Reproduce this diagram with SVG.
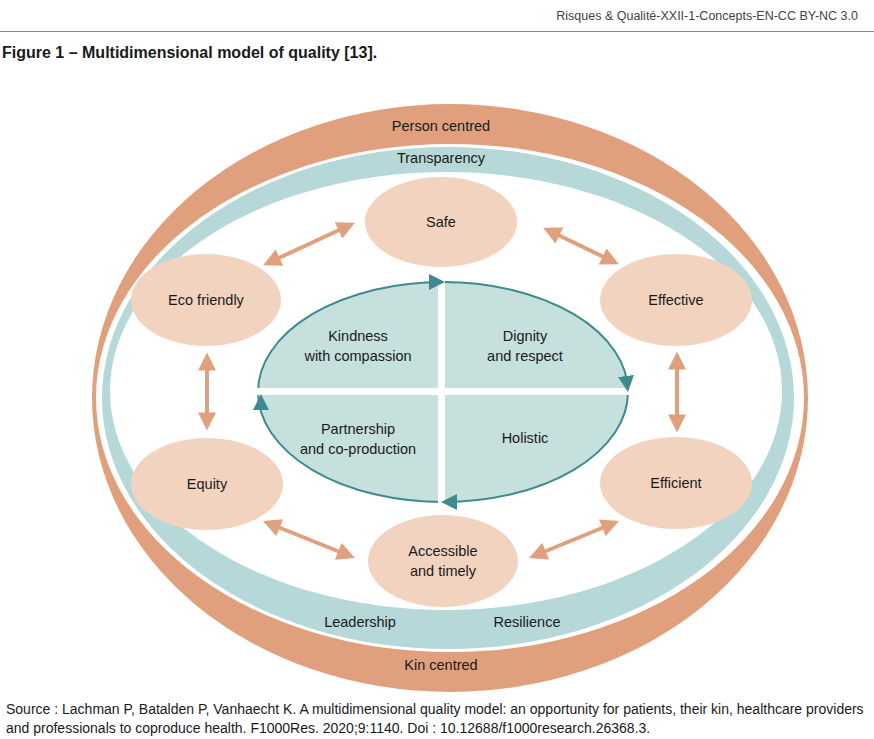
<svg xmlns="http://www.w3.org/2000/svg" width="874" height="739" viewBox="0 0 874 739">
<style>
text{font-family:"Liberation Sans",Arial,sans-serif;fill:#1a1a1a}
.l{font-size:14.5px;text-anchor:middle}
.node{fill:#f2d3c0}
.q{fill:#c5e0dd}
.oa{stroke:#e0a07e;stroke-width:4;fill:none}
</style>
<defs>
<marker id="ae" viewBox="0 0 10 10" refX="7" refY="5" markerWidth="20" markerHeight="18" orient="auto" markerUnits="userSpaceOnUse"><path d="M0,0 L10,5 L0,10 z" fill="#e0a07e"/></marker>
<marker id="as" viewBox="0 0 10 10" refX="3" refY="5" markerWidth="20" markerHeight="18" orient="auto" markerUnits="userSpaceOnUse"><path d="M10,0 L0,5 L10,10 z" fill="#e0a07e"/></marker>
<marker id="at" viewBox="0 0 10 10" refX="5" refY="5" markerWidth="16" markerHeight="16" orient="auto" markerUnits="userSpaceOnUse"><path d="M0,0 L10,5 L0,10 z" fill="#3e8a8e"/></marker>
</defs>
<rect width="874" height="739" fill="#fff"/>
<text x="858" y="20" font-size="12.5" text-anchor="end" style="fill:#444">Risques &amp; Qualité-XXII-1-Concepts-EN-CC BY-NC 3.0</text>
<line x1="0" y1="31.5" x2="874" y2="31.5" stroke="#888" stroke-width="1"/>
<text x="2" y="58" font-size="16" font-weight="bold">Figure 1 – Multidimensional model of quality [13].</text>
<g id="rings">
<path fill="#e0a07e" fill-rule="evenodd" d="M92,398 a358,294 0 1,0 716,0 a358,294 0 1,0 -716,0 Z M96,398 a354,254 0 1,0 708,0 a354,254 0 1,0 -708,0 Z"/>
<path fill="#b6d8d8" fill-rule="evenodd" d="M102,398 a346,251 0 1,0 692,0 a346,251 0 1,0 -692,0 Z M110,391 a336,219 0 1,0 672,0 a336,219 0 1,0 -672,0 Z"/>
<text class="l" x="441" y="131">Person centred</text>
<text class="l" x="441" y="163">Transparency</text>
<text class="l" x="360" y="627">Leadership</text>
<text class="l" x="527" y="627">Resilience</text>
<text class="l" x="441" y="670">Kin centred</text>
</g>
<g id="center">
<ellipse cx="443" cy="392" rx="185" ry="110" class="q" stroke="#3e8a8e" stroke-width="2"/>
<rect x="438" y="278" width="7" height="230" fill="#fff"/>
<rect x="254" y="388" width="380" height="7" fill="#fff"/>
<path d="M428,282 L437,282" marker-end="url(#at)" fill="none"/>
<path d="M626,376 L627,384" marker-end="url(#at)" fill="none"/>
<path d="M456,502 L449,502" marker-end="url(#at)" fill="none"/>
<path d="M261,410 L261,402" marker-end="url(#at)" fill="none"/>
<text class="l" x="358" y="341">Kindness</text>
<text class="l" x="358" y="361">with compassion</text>
<text class="l" x="525" y="341">Dignity</text>
<text class="l" x="525" y="361">and respect</text>
<text class="l" x="358" y="434">Partnership</text>
<text class="l" x="358" y="454">and co-production</text>
<text class="l" x="525" y="443">Holistic</text>
</g>
<g id="safe"><ellipse class="node" cx="441" cy="222" rx="76" ry="45"/><text class="l" x="441" y="227">Safe</text></g>
<g id="eco"><ellipse class="node" cx="206" cy="300" rx="75" ry="46"/><text class="l" x="206" y="305">Eco friendly</text></g>
<g id="effective"><ellipse class="node" cx="676" cy="300" rx="76" ry="46"/><text class="l" x="676" y="305">Effective</text></g>
<g id="equity"><ellipse class="node" cx="207" cy="484" rx="76" ry="46"/><text class="l" x="207" y="489">Equity</text></g>
<g id="efficient"><ellipse class="node" cx="676" cy="483" rx="76" ry="46"/><text class="l" x="676" y="488">Efficient</text></g>
<g id="accessible"><ellipse class="node" cx="443" cy="561" rx="75" ry="46"/><text class="l" x="443" y="556">Accessible</text><text class="l" x="443" y="576">and timely</text></g>
<g id="connectors">
<path class="oa" d="M268,263 L350,225" marker-start="url(#as)" marker-end="url(#ae)"/>
<path class="oa" d="M548,230 L614,262" marker-start="url(#as)" marker-end="url(#ae)"/>
<path class="oa" d="M207,358 L207,425" marker-start="url(#as)" marker-end="url(#ae)"/>
<path class="oa" d="M677,357 L677,427" marker-start="url(#as)" marker-end="url(#ae)"/>
<path class="oa" d="M268,523 L350,556" marker-start="url(#as)" marker-end="url(#ae)"/>
<path class="oa" d="M534,556 L614,523" marker-start="url(#as)" marker-end="url(#ae)"/>
</g>
<text x="6" y="714" font-size="14">Source : Lachman P, Batalden P, Vanhaecht K. A multidimensional quality model: an opportunity for patients, their kin, healthcare providers</text>
<text x="6" y="733" font-size="14">and professionals to coproduce health. F1000Res. 2020;9:1140. Doi : 10.12688/f1000research.26368.3.</text>
</svg>
